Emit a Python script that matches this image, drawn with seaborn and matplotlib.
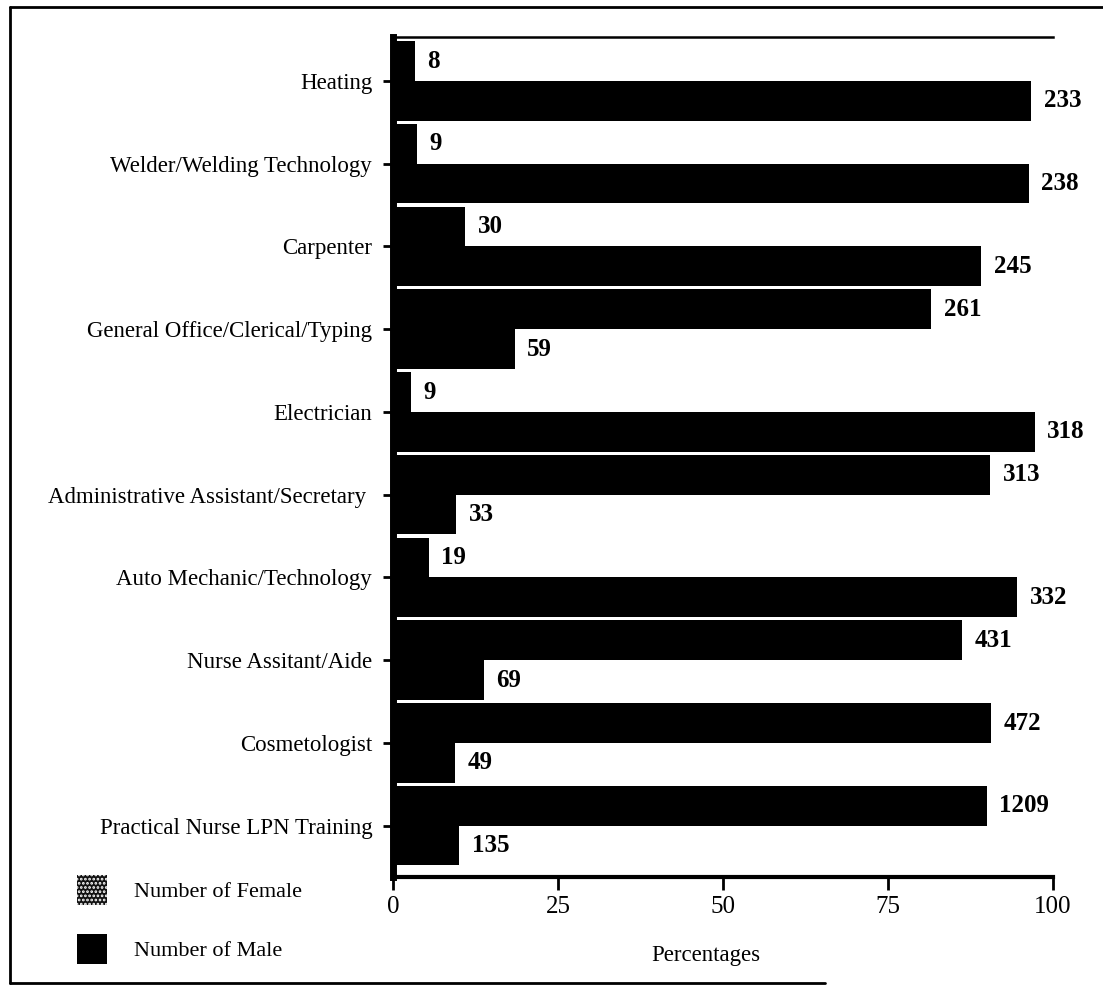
import numpy as np
import pandas as pd
import matplotlib
matplotlib.use("Agg")
import matplotlib.pyplot as plt
import seaborn as sns
from matplotlib.lines import Line2D
from matplotlib.patches import Patch

# Enrolment counts by training program
programs = [
    "Heating",
    "Welder/Welding Technology",
    "Carpenter",
    "General Office/Clerical/Typing",
    "Electrician",
    "Administrative Assistant/Secretary ",
    "Auto Mechanic/Technology",
    "Nurse Assitant/Aide",
    "Cosmetologist",
    "Practical Nurse LPN Training",
]
female = [8, 9, 30, 261, 9, 313, 19, 431, 472, 1209]
male = [233, 238, 245, 59, 318, 33, 332, 69, 49, 135]
x_ticks = [0, 25, 50, 75, 100]
series = ["Number of Female", "Number of Male"]

female_arr = np.array(female, dtype=float)
male_arr = np.array(male, dtype=float)
totals = female_arr + male_arr

df = pd.DataFrame({
    "program": programs * 2,
    "sex": [series[0]] * len(programs) + [series[1]] * len(programs),
    "count": female + male,
    "pct": np.concatenate([female_arr / totals * 100, male_arr / totals * 100]),
})

sns.set_theme(style="white")
plt.rcParams["font.family"] = ["Liberation Serif", "DejaVu Serif"]
plt.rcParams["text.color"] = "black"
plt.rcParams["axes.labelcolor"] = "black"

fig = plt.figure(figsize=(11.03, 9.91), dpi=100)
W, H = 1103, 991
ax_left, ax_right, ax_top, ax_bottom = 393, 1053, 37, 877
ax = fig.add_axes([ax_left / W, 1 - ax_bottom / H,
                   (ax_right - ax_left) / W, (ax_bottom - ax_top) / H])

sns.barplot(data=df, y="program", x="pct", hue="sex", hue_order=series,
            order=programs, orient="h", palette=["#000000", "#000000"],
            saturation=1, width=0.96, linewidth=0, ax=ax, legend=False)

# count labels at the end of every bar
for cont, counts in zip(ax.containers, [female, male]):
    ax.bar_label(cont, labels=[str(c) for c in counts], padding=9,
                 fontsize=18, fontweight="bold", color="black")

ax.set_xlim(0, 100)
ax.set_ylim(len(programs) - 0.38, -0.53)
ax.set_xticks(x_ticks)
ax.set_xticklabels([str(t) for t in x_ticks])
ax.set_ylabel("")
ax.set_xlabel("Percentages", fontsize=16.5, color="black")
ax.xaxis.set_label_coords(0.474, -0.093)
ax.xaxis.label.set_va("center")

for side in ["left", "top", "bottom"]:
    ax.spines[side].set_color("black")
ax.spines["left"].set_linewidth(5)
ax.spines["top"].set_linewidth(1.8)
ax.spines["bottom"].set_linewidth(3)
ax.spines["right"].set_visible(False)

ax.tick_params(axis="y", left=True, length=7, width=2, pad=8,
               labelsize=16.5, colors="black")
ax.tick_params(axis="x", bottom=True, length=9, width=2, pad=5,
               labelsize=18, colors="black")

# legend in the lower-left corner
plt.rcParams["hatch.linewidth"] = 1.3
handles = [
    Patch(facecolor="#111111", edgecolor="white", hatch="....", linewidth=0,
          label=series[0]),
    Patch(facecolor="black", edgecolor="black", linewidth=0, label=series[1]),
]
leg = fig.legend(handles=handles, loc="upper left",
                 bbox_to_anchor=(77 / W, 1 - 875 / H), frameon=False,
                 fontsize=16, handlelength=1.35, handleheight=1.7,
                 labelspacing=1.3, handletextpad=1.2, borderpad=0,
                 borderaxespad=0)
for t in leg.get_texts():
    t.set_color("black")

# outer frame around the figure
frame_kw = dict(transform=fig.transFigure, color="black", linewidth=2)
fig.add_artist(Line2D([10 / W, 1.0], [1 - 7 / H, 1 - 7 / H], **frame_kw))
fig.add_artist(Line2D([10 / W, 10 / W], [1 - 7 / H, 1 - 983 / H], **frame_kw))
fig.add_artist(Line2D([10 / W, 825 / W], [1 - 983 / H, 1 - 983 / H], **frame_kw))

fig.savefig("out.png", dpi=100, facecolor="white")
